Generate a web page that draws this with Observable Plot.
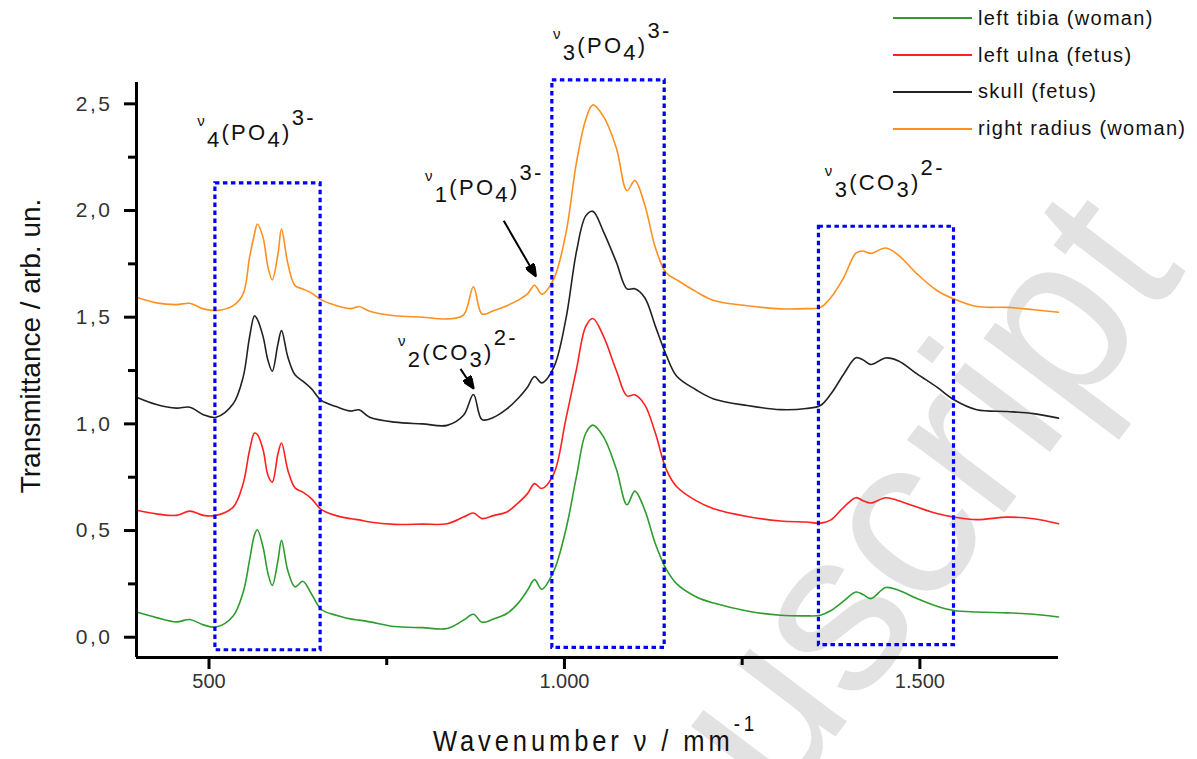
<!DOCTYPE html>
<html><head><meta charset="utf-8">
<script src="https://cdn.jsdelivr.net/npm/d3@7"></script>
<script src="https://cdn.jsdelivr.net/npm/@observablehq/plot@0.6"></script>
<style>
body{margin:0;background:#fff;font-family:Arial,"Liberation Sans",sans-serif;}
#wrap{position:relative;width:1197px;height:759px;overflow:hidden;}
#legend{position:absolute;left:893px;top:0px;}
.row{display:flex;align-items:center;height:36.8px;}
.sw{width:79px;height:0;border-top:2px solid;margin-right:6px;}
.lab{font-size:20px;letter-spacing:1.3px;color:#111;white-space:nowrap;}
</style></head><body><div id="wrap"><div id="chart"></div><div id="legend"></div></div>
<script>
// ---- data ----
const wavenumber = [398, 426, 454, 473, 492, 510, 534, 548, 557, 564, 568, 576, 583, 589, 597, 602, 611, 621, 632, 644, 658, 679, 700, 711, 726, 761, 800, 835, 858, 872, 884, 900, 919, 935, 948, 958, 968, 985, 1002, 1017, 1030, 1040, 1055, 1073, 1088, 1099, 1113, 1128, 1143, 1158, 1185, 1210, 1257, 1304, 1340, 1360, 1375, 1393, 1410, 1420, 1431, 1452, 1470, 1496, 1524, 1548, 1580, 1623, 1660, 1695];

const leftTibiaWoman = [0.118, 0.092, 0.072, 0.083, 0.058, 0.048, 0.100, 0.210, 0.360, 0.480, 0.504, 0.423, 0.298, 0.243, 0.360, 0.454, 0.310, 0.236, 0.262, 0.204, 0.130, 0.103, 0.085, 0.080, 0.072, 0.050, 0.045, 0.041, 0.080, 0.108, 0.070, 0.085, 0.111, 0.160, 0.220, 0.270, 0.225, 0.310, 0.504, 0.755, 0.956, 0.994, 0.939, 0.788, 0.621, 0.685, 0.596, 0.437, 0.320, 0.250, 0.190, 0.160, 0.123, 0.103, 0.100, 0.103, 0.125, 0.170, 0.212, 0.200, 0.181, 0.233, 0.220, 0.181, 0.145, 0.125, 0.118, 0.114, 0.108, 0.095];

const leftUlnaFetus = [0.595, 0.578, 0.571, 0.591, 0.571, 0.571, 0.610, 0.720, 0.875, 0.957, 0.950, 0.880, 0.758, 0.727, 0.860, 0.910, 0.782, 0.700, 0.680, 0.650, 0.598, 0.570, 0.555, 0.550, 0.540, 0.529, 0.530, 0.532, 0.563, 0.582, 0.556, 0.570, 0.587, 0.630, 0.673, 0.720, 0.697, 0.766, 1.022, 1.257, 1.457, 1.494, 1.410, 1.250, 1.131, 1.136, 1.089, 0.956, 0.788, 0.705, 0.640, 0.602, 0.566, 0.545, 0.540, 0.535, 0.550, 0.610, 0.654, 0.640, 0.629, 0.654, 0.640, 0.610, 0.580, 0.563, 0.551, 0.563, 0.555, 0.532];

const skullFetus = [1.125, 1.091, 1.074, 1.078, 1.043, 1.031, 1.094, 1.219, 1.406, 1.507, 1.490, 1.410, 1.297, 1.247, 1.375, 1.437, 1.312, 1.230, 1.200, 1.165, 1.110, 1.081, 1.060, 1.066, 1.031, 1.008, 1.000, 0.993, 1.040, 1.138, 1.020, 1.030, 1.070, 1.120, 1.172, 1.222, 1.192, 1.265, 1.491, 1.809, 1.975, 1.996, 1.900, 1.758, 1.633, 1.633, 1.591, 1.457, 1.324, 1.223, 1.160, 1.117, 1.086, 1.067, 1.072, 1.086, 1.141, 1.234, 1.310, 1.300, 1.278, 1.309, 1.295, 1.234, 1.172, 1.113, 1.066, 1.058, 1.048, 1.027];

const rightRadiusWoman = [1.593, 1.567, 1.559, 1.565, 1.539, 1.531, 1.554, 1.609, 1.780, 1.890, 1.937, 1.874, 1.734, 1.675, 1.796, 1.913, 1.750, 1.648, 1.632, 1.614, 1.581, 1.555, 1.540, 1.550, 1.528, 1.507, 1.500, 1.492, 1.510, 1.643, 1.515, 1.530, 1.554, 1.580, 1.609, 1.650, 1.608, 1.680, 1.892, 2.227, 2.427, 2.495, 2.440, 2.293, 2.093, 2.140, 2.026, 1.825, 1.708, 1.675, 1.620, 1.578, 1.554, 1.539, 1.540, 1.546, 1.593, 1.687, 1.800, 1.810, 1.799, 1.824, 1.790, 1.703, 1.625, 1.585, 1.550, 1.546, 1.535, 1.523];

const seriesNames = ["left tibia (woman)", "left ulna (fetus)", "skull (fetus)", "right radius (woman)"];
const seriesColors = ["#2e9c2e", "#ff2020", "#222222", "#ff9020"];

const xDomain = [398, 1695];
const yDomain = [-0.095, 2.6];
const xTicks = [500, 1000, 1500];
const xTickLabels = ["500", "1.000", "1.500"];
const xMinorTicks = [750, 1250];
const yTicks = [0, 0.5, 1.0, 1.5, 2.0, 2.5];
const yTickLabels = ["0,0", "0,5", "1,0", "1,5", "2,0", "2,5"];
const yMinorTicks = [0.25, 0.75, 1.25, 1.75, 2.25];

// highlighted band boxes
const boxX1 = [509, 983, 1358];
const boxX2 = [657, 1141, 1548];
const boxY1 = [-0.061, -0.05, -0.037];
const boxY2 = [2.127, 2.61, 1.924];

// annotations: ν_n (GROUP_sub)^charge, anchored at left / baseline
const annoNu = ["4", "3", "1", "2", "3"];
const annoGroup = ["PO", "PO", "PO", "CO", "CO"];
const annoSub = ["4", "4", "4", "3", "3"];
const annoCharge = ["3-", "3-", "3-", "2-", "2-"];
const annoX = [484, 984.5, 804.5, 766.5, 1367];
const annoY = [2.327, 2.734, 2.069, 1.297, 2.093];

// arrows
const arrowX1 = [914.6, 853.7];
const arrowY1 = [1.952, 1.258];
const arrowX2 = [959.2, 871.6];
const arrowY2 = [1.695, 1.169];

// ---- build ----
const seriesValues = [leftTibiaWoman, leftUlnaFetus, skullFetus, rightRadiusWoman];
const rows = seriesNames.flatMap((name, s) => wavenumber.map((w, i) => ({name, w, v: seriesValues[s][i]})));
const boxes = boxX1.map((d, i) => ({x1: d, x2: boxX2[i], y1: boxY1[i], y2: boxY2[i]}));
const arrows = arrowX1.map((d, i) => ({x1: d, y1: arrowY1[i], x2: arrowX2[i], y2: arrowY2[i]}));

function filledArrow(color) {
  return d3.create("svg:marker")
    .attr("viewBox", "0 -5 12 10").attr("refX", 11).attr("refY", 0)
    .attr("markerUnits", "userSpaceOnUse").attr("markerWidth", 14).attr("markerHeight", 10)
    .attr("orient", "auto")
    .call(m => m.append("path").attr("d", "M0,-5L12,0L0,5Z").attr("fill", color))
    .node();
}

const FONT = "Arial, 'Liberation Sans', sans-serif";
const plot = Plot.plot({
  width: 1197, height: 759,
  marginLeft: 136, marginRight: 139, marginTop: 82, marginBottom: 102,
  x: {domain: xDomain},
  y: {domain: yDomain},
  color: {domain: seriesNames, range: seriesColors},
  style: {fontFamily: FONT, background: "transparent", overflow: "hidden"},
  marks: [
    Plot.line(rows, {x: "w", y: "v", z: "name", stroke: "name", strokeWidth: 1.6, curve: "catmull-rom"}),
    Plot.rect(boxes, {x1: "x1", x2: "x2", y1: "y1", y2: "y2", fill: "none", stroke: "#0000ff", strokeWidth: 3.2, strokeDasharray: "4.5,3.5"}),
    Plot.link(arrows, {x1: "x1", y1: "y1", x2: "x2", y2: "y2", stroke: "#000", strokeWidth: 2, markerEnd: filledArrow}),
    Plot.axisY({ticks: yTicks, tickFormat: d => yTickLabels[yTicks.indexOf(d)], tickSize: 12, tickPadding: 12, fontSize: 21, strokeWidth: 3, stroke: "#000", fill: "#333", label: null}),
    Plot.axisY({ticks: yMinorTicks, tickFormat: () => "", tickSize: 8, strokeWidth: 3, stroke: "#000", label: null}),
    Plot.axisX({ticks: xTicks, tickFormat: d => xTickLabels[xTicks.indexOf(d)], tickSize: 12, tickPadding: 4, fontSize: 20, strokeWidth: 3, stroke: "#000", fill: "#333", label: null}),
    Plot.axisX({ticks: xMinorTicks, tickFormat: () => "", tickSize: 8, strokeWidth: 3, stroke: "#000", label: null}),
    Plot.ruleX([xDomain[0]], {stroke: "#000", strokeWidth: 3}),
    Plot.ruleY([yDomain[0]], {stroke: "#000", strokeWidth: 3})
  ]
});
document.getElementById("chart").appendChild(plot);

const xs = v => plot.scale("x").apply(v);
const ys = v => plot.scale("y").apply(v);
const svg = d3.select(plot);
svg.selectAll("g[aria-label='y-axis tick label'] text").attr("letter-spacing", "2.5px");

// watermark (background)
svg.insert("text", ":first-child")
  .attr("transform", "translate(891,663) rotate(-53)").attr("text-anchor", "start")
  .attr("x", -633).attr("font-size", 230).attr("font-family", FONT).attr("fill", "#e2e2e2")
  .text("Manuscript");

// annotations
const ag = svg.append("g").attr("font-family", FONT).attr("font-size", 22).attr("fill", "#111").attr("text-anchor", "start");
annoNu.forEach((nu, i) => {
  const t = ag.append("text").attr("x", xs(annoX[i])).attr("y", ys(annoY[i])).attr("letter-spacing", "2.3px");
  t.append("tspan").attr("font-size", 15).attr("dy", -14).text("ν");
  t.append("tspan").attr("dy", 21).text(nu);
  t.append("tspan").attr("dy", -7).text("(" + annoGroup[i]);
  t.append("tspan").attr("dy", 7).text(annoSub[i]);
  t.append("tspan").attr("dy", -7).text(")");
  t.append("tspan").attr("dy", -15).text(annoCharge[i]);
});

// axis titles
svg.append("text").attr("transform", "translate(40,346) rotate(-90)").attr("text-anchor", "middle")
  .attr("font-family", FONT).attr("font-size", 28).attr("fill", "#111").text("Transmittance / arb. un.");
const xt = svg.append("text").attr("transform", "translate(433,751) scale(0.85,1)").attr("text-anchor", "start")
  .attr("font-family", FONT).attr("font-size", 30).attr("letter-spacing", "4.6px").attr("fill", "#111");
xt.append("tspan").text("Wavenumber ν / mm");
xt.append("tspan").attr("dy", -20).attr("font-size", 22).text("-1");

// legend
const lg = d3.select("#legend");
seriesNames.forEach((n, i) => {
  const r = lg.append("div").attr("class", "row");
  r.append("div").attr("class", "sw").style("border-top-color", seriesColors[i]);
  r.append("div").attr("class", "lab").text(n);
});
</script></body></html>
